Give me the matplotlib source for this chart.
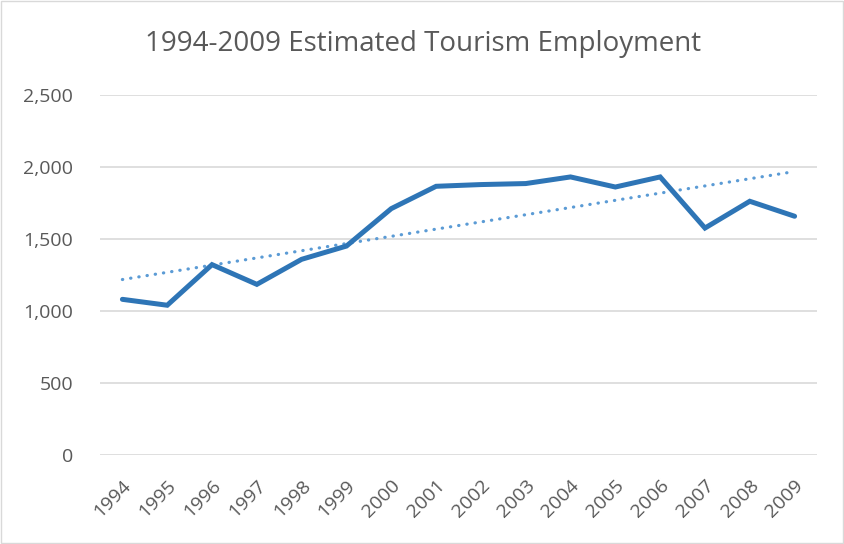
import numpy as np
import matplotlib.pyplot as plt
import matplotlib.transforms as mtransforms
from matplotlib.patches import Rectangle

years = [str(y) for y in range(1994, 2010)]
employment = [1081, 1040, 1322, 1185, 1359, 1451, 1711, 1866,
              1878, 1885, 1931, 1861, 1931, 1576, 1762, 1658]
y_ticks = [0, 500, 1000, 1500, 2000, 2500]

TXT = "#595959"
plt.rcParams["font.family"] = ["Open Sans", "DejaVu Sans"]

fig = plt.figure(figsize=(8.44, 5.44), dpi=100)
ax = fig.add_axes([100 / 844, 1 - 455 / 544, 717 / 844, 360 / 544])

x = np.arange(len(years))
ax.plot(x, employment, color="#2E75B6", linewidth=3.6,
        solid_joinstyle="miter", solid_capstyle="round", zorder=3)

# linear trend line
coef = np.polyfit(x, employment, 1)
ax.plot(x, np.polyval(coef, x), color="#5B9BD5", linewidth=2.3,
        linestyle=(0, (0.1, 2.5)), dash_capstyle="round", zorder=2)

ax.set_xlim(-0.5, len(years) - 0.5)
ax.set_ylim(0, 2500)
ax.set_yticks(y_ticks)
ax.set_yticklabels([f"{v:,}" for v in y_ticks])
ax.set_xticks(x)
ax.set_xticklabels(years, rotation=45, ha="right", va="center",
                   rotation_mode="anchor")
ax.tick_params(axis="both", length=0, labelsize=14, colors=TXT)
ax.tick_params(axis="y", pad=19.5)
ax.tick_params(axis="x", pad=20)
shift = mtransforms.ScaledTranslation(6 / 100, 0, fig.dpi_scale_trans)
for lbl in ax.get_xticklabels():
    lbl.set_transform(lbl.get_transform() + shift)
ax.grid(axis="y", color="#D9D9D9", linewidth=1.2)
ax.set_axisbelow(True)
for s in ax.spines.values():
    s.set_visible(False)

fig.text(0.5 * (143 + 703) / 844, 1 - 44 / 544,
         "1994-2009 Estimated Tourism Employment",
         ha="center", va="center", fontsize=20, color=TXT)

fig.patches.append(Rectangle((1 / 844, 1 / 544), 842 / 844, 542 / 544,
                             transform=fig.transFigure, fill=False,
                             edgecolor="#D9D9D9", linewidth=1))

fig.savefig("out.png", dpi=100)
